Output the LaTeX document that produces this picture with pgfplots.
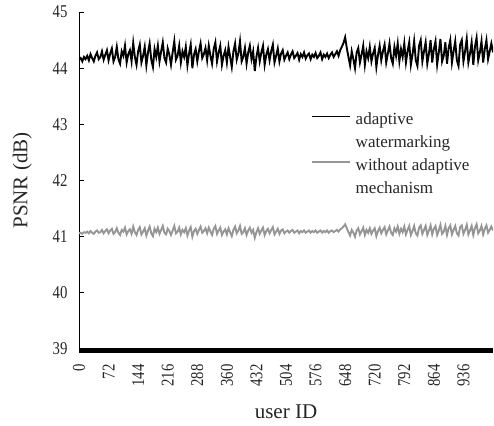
\documentclass[border=0pt]{standalone}
\usepackage{fontspec}
\setmainfont{Liberation Serif}
\newfontfamily\tickfont{Liberation Serif}[FakeStretch=0.82]
\usepackage{pgfplots}
\pgfplotsset{compat=1.18}
\usepackage{pgfplotstable}
\definecolor{lgray}{RGB}{150,150,150}

% x = user ID, a = adaptive watermarking, b = without adaptive mechanism
\pgfplotstableread{
x a b
0 44.15 41.06
4 44.18 41.07
8 44.12 41.05
12 44.20 41.08
16 44.16 41.07
20 44.22 41.09
24 44.14 41.06
28 44.25 41.10
32 44.18 41.07
36 44.12 41.05
40 44.22 41.09
44 44.28 41.11
48 44.16 41.07
52 44.20 41.08
56 44.30 41.12
60 44.15 41.06
64 44.24 41.10
68 44.32 41.13
72 44.14 41.06
76 44.26 41.11
80 44.35 41.14
84 44.12 41.05
88 44.20 41.08
92 44.38 41.15
96 44.16 41.07
100 44.08 41.03
104 44.30 41.12
108 44.22 41.09
112 44.40 41.16
116 44.10 41.04
120 44.25 41.10
124 44.32 41.13
128 44.12 41.05
132 44.45 41.18
136 44.20 41.08
140 44.06 41.03
144 44.30 41.12
148 44.42 41.17
152 44.10 41.04
156 44.22 41.09
160 44.38 41.15
164 44.05 41.02
168 44.28 41.11
172 44.44 41.18
176 44.15 41.06
180 44.02 41.01
184 44.34 41.14
188 44.20 41.08
192 44.40 41.16
196 44.12 41.05
200 44.30 41.12
204 44.46 41.19
208 44.18 41.07
212 44.10 41.04
216 44.35 41.14
220 44.24 41.10
224 44.06 41.03
228 44.28 41.11
232 44.48 41.19
236 44.15 41.06
240 44.22 41.09
244 44.40 41.16
248 44.10 41.04
252 44.30 41.12
256 44.20 41.08
260 44.38 41.15
264 44.05 41.02
268 44.26 41.11
272 44.42 41.17
276 44.00 41.00
280 44.24 41.10
284 44.34 41.14
288 44.12 41.05
292 44.30 41.12
296 44.44 41.18
300 44.18 41.07
304 44.25 41.10
308 44.36 41.15
312 44.14 41.06
316 44.40 41.16
320 44.22 41.09
324 44.08 41.03
328 44.34 41.14
332 44.46 41.19
336 44.12 41.05
340 44.28 41.11
344 44.40 41.16
348 44.06 41.03
352 44.22 41.09
356 44.32 41.13
360 44.10 41.04
364 44.38 41.15
368 44.20 41.08
372 44.02 41.01
376 44.30 41.12
380 44.44 41.18
384 44.15 41.06
388 44.26 41.11
392 44.48 41.19
396 44.12 41.05
400 44.20 41.08
404 44.36 41.15
408 44.08 41.03
412 44.28 41.11
416 44.40 41.16
420 44.16 41.07
424 44.30 41.12
428 43.95 40.98
432 44.20 41.08
436 44.36 41.15
440 44.12 41.05
444 44.28 41.11
448 44.40 41.16
452 44.06 41.03
456 44.24 41.10
460 44.34 41.14
464 44.14 41.06
468 44.30 41.12
472 44.42 41.17
476 44.10 41.04
480 44.22 41.09
484 44.35 41.14
488 44.12 41.05
492 44.26 41.11
496 44.32 41.13
500 44.15 41.06
504 44.22 41.09
508 44.28 41.11
512 44.16 41.07
516 44.24 41.10
520 44.30 41.12
524 44.18 41.07
528 44.22 41.09
532 44.27 41.11
536 44.15 41.06
540 44.25 41.10
544 44.20 41.08
548 44.28 41.11
552 44.17 41.07
556 44.23 41.09
560 44.26 41.11
564 44.16 41.07
568 44.24 41.10
572 44.20 41.08
576 44.27 41.11
580 44.18 41.07
584 44.22 41.09
588 44.28 41.11
592 44.16 41.07
596 44.24 41.10
600 44.20 41.08
604 44.26 41.11
608 44.18 41.07
612 44.24 41.10
616 44.28 41.11
620 44.20 41.08
624 44.25 41.10
628 44.30 41.12
632 44.22 41.09
636 44.32 41.13
640 44.38 41.15
644 44.45 41.18
648 44.55 41.22
652 44.36 41.15
656 44.20 41.08
660 44.05 41.02
664 44.30 41.12
668 44.16 41.07
672 44.00 41.00
676 44.28 41.11
680 44.36 41.15
684 44.10 41.04
688 44.24 41.10
692 44.40 41.16
696 44.06 41.03
700 44.30 41.12
704 44.18 41.07
708 44.38 41.15
712 44.12 41.05
716 44.26 41.11
720 44.36 41.15
724 44.02 41.01
728 44.24 41.10
732 44.40 41.16
736 44.14 41.06
740 44.30 41.12
744 44.42 41.17
748 44.10 41.04
752 44.26 41.11
756 44.44 41.18
760 44.18 41.07
764 44.08 41.03
768 44.38 41.15
772 44.22 41.09
776 44.44 41.18
780 44.12 41.05
784 44.34 41.14
788 44.20 41.08
792 44.44 41.18
796 44.10 41.04
800 44.30 41.12
804 44.46 41.19
808 44.06 41.03
812 44.24 41.10
816 44.48 41.19
820 44.14 41.06
824 44.04 41.02
828 44.40 41.16
832 44.50 41.20
836 44.12 41.05
840 44.30 41.12
844 44.46 41.19
848 44.08 41.03
852 44.26 41.11
856 44.50 41.20
860 44.10 41.04
864 44.34 41.14
868 44.48 41.19
872 44.06 41.03
876 44.28 41.11
880 44.52 41.21
884 44.12 41.05
888 44.22 41.09
892 44.46 41.19
896 44.08 41.03
900 44.36 41.15
904 44.50 41.20
908 44.10 41.04
912 44.30 41.12
916 44.48 41.19
920 44.14 41.06
924 44.04 41.02
928 44.42 41.17
932 44.50 41.20
936 44.12 41.05
940 44.30 41.12
944 44.52 41.21
948 44.10 41.04
952 44.26 41.11
956 44.46 41.19
960 44.06 41.03
964 44.38 41.15
968 44.54 41.22
972 44.14 41.06
976 44.28 41.11
980 44.48 41.19
984 44.10 41.04
988 44.34 41.14
992 44.50 41.20
996 44.16 41.07
1000 44.30 41.12
1004 44.44 41.18
1008 44.28 41.11
}\psnr

\begin{document}
\begin{tikzpicture}
\begin{axis}[
    name=ax,
    width=414pt, height=337pt, scale only axis,
    xmin=0, xmax=1008, ymin=39, ymax=45,
    axis lines=left,
    axis line style={-, line width=0.8pt},
    x axis line style={line width=5pt, yshift=-1.5pt},
    xtick={0,72,...,936}, ytick={39,40,...,45},
    tick align=inside, major tick length=5pt,
    xtick style={draw=none},
    ytick style={black, line width=0.8pt},
    /pgf/number format/assume math mode=true,
    ticklabel style={font=\tickfont\fontsize{18}{18}\selectfont, text=black!85},
    x tick label style={rotate=90, anchor=east},
    xticklabel shift=12pt,
    y tick label style={xshift=-8pt},
    xlabel={user ID}, ylabel={PSNR (dB)},
    label style={font=\fontsize{21}{21}\selectfont, text=black!85},
    xlabel shift=11pt,
    ylabel shift=14pt,
    legend style={draw=none, fill=none, at={(rel axis cs:0.553,0.713)}, anchor=north west,
        font=\fontsize{17}{17}\selectfont, text=black!85, row sep=5.5pt,
        /tikz/every odd column/.append style={column sep=3pt}},
    legend cell align=left,
    legend image code/.code={\draw[#1, line width=1.6pt] (0pt,0.3em) -- (38pt,0.3em);},
]
\addplot[black, line width=1.9pt] table[x=x, y=a] {\psnr};
\addlegendentry{adaptive}
\addlegendimage{empty legend}
\addlegendentry{watermarking}
\addplot[lgray, line width=1.9pt] table[x=x, y=b] {\psnr};
\addlegendentry{without adaptive}
\addlegendimage{empty legend}
\addlegendentry{mechanism}
\end{axis}
\pgfresetboundingbox
\path ([xshift=-79pt,yshift=-76pt]ax.south west) rectangle ([xshift=1pt,yshift=12pt]ax.north east);
\end{tikzpicture}
\end{document}
